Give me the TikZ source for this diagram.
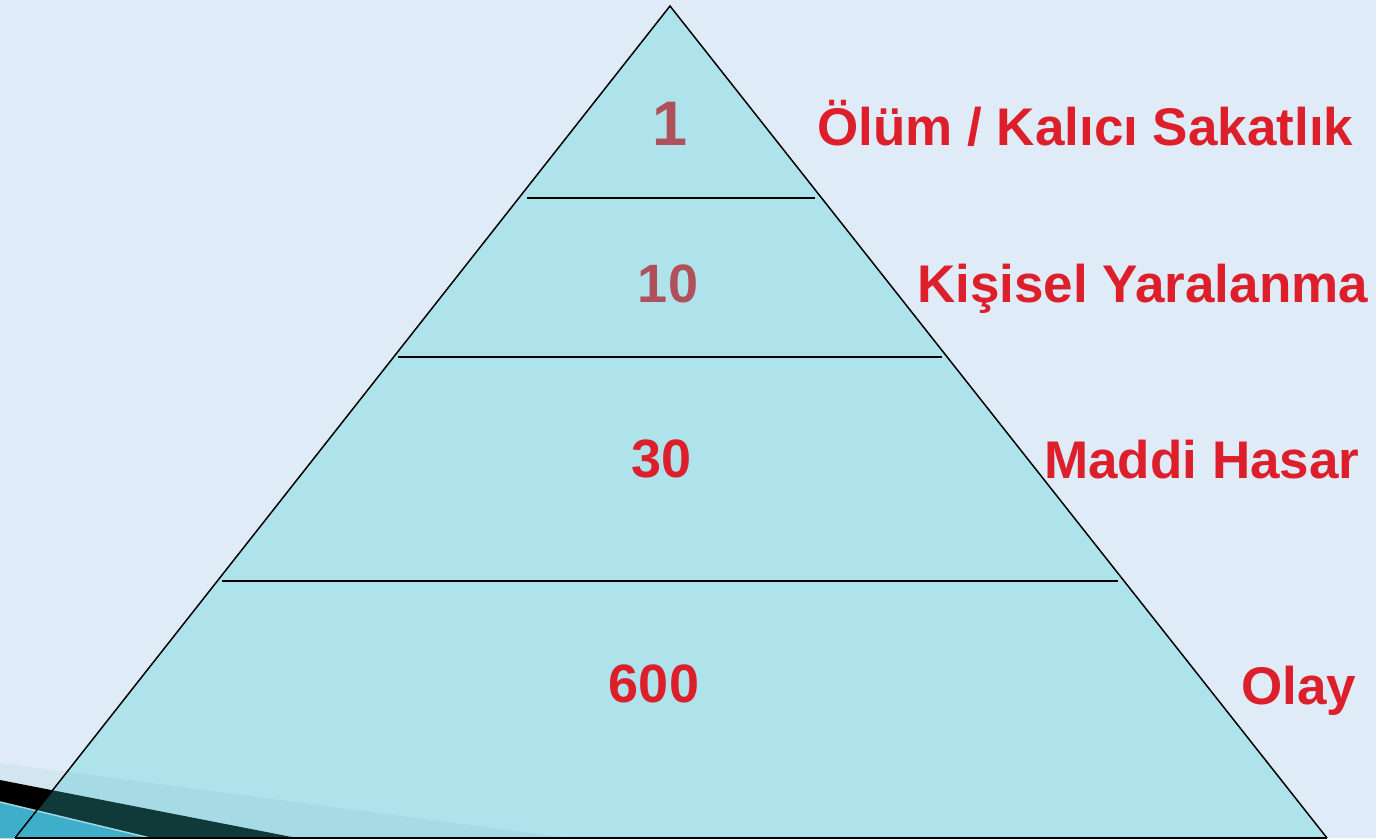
\documentclass[tikz,border=0pt]{standalone}
\usepackage{fontspec}
\setmainfont{Liberation Sans}
\definecolor{bgc}{HTML}{DFECF8}
\definecolor{tric}{HTML}{AEE3EC}
\definecolor{numdark}{HTML}{B0505A}
\definecolor{lblred}{HTML}{DD1F2B}
\definecolor{bandc}{HTML}{103A3A}
\definecolor{stripec}{HTML}{3FAECB}
\definecolor{lightband}{HTML}{D3E6EF}
\definecolor{lightbandin}{HTML}{A6DBE5}
\definecolor{stripeline}{HTML}{9ED8E4}
\begin{document}
\begin{tikzpicture}[x=1pt,y=-1pt,
  lbl/.style={font=\fontsize{53}{60}\selectfont\bfseries, text=lblred, inner sep=0pt, anchor=base west},
  num/.style={font=\fontsize{54}{62}\selectfont\bfseries, inner sep=0pt, anchor=base},
  sep/.style={draw=black, line width=1.6pt},
  edge/.style={draw=black, line width=1.5pt, line join=miter}]
\fill[bgc] (0,0) rectangle (1376,838);
\useasboundingbox (0,0) rectangle (1376,838);
% decoration outside the triangle
\fill[lightband] (0,763) -- (568,838) -- (0,838) -- cycle;
\fill[black] (0,780) -- (297,838) -- (0,838) -- cycle;
\fill[stripec] (0,802) -- (150,838) -- (0,838) -- cycle;
\draw[stripeline, line width=1.5pt] (0,802) -- (150,838);
% triangle
\coordinate (apex) at (670,6);
\coordinate (bl) at (15,838);
\coordinate (br) at (1327,838);
\fill[tric] (apex) -- (bl) -- (br) -- cycle;
\begin{scope}
  \clip (apex) -- (bl) -- (br) -- cycle;
  \fill[lightbandin] (0,763) -- (568,838) -- (0,838) -- cycle;
  \fill[bandc] (0,780) -- (297,838) -- (0,838) -- cycle;
  \fill[stripec] (0,802) -- (150,838) -- (0,838) -- cycle;
  \draw[stripeline, line width=1.5pt] (0,802) -- (150,838);
\end{scope}
\draw[edge] (bl) -- (apex) -- (br);
\draw[edge] (bl) -- (br);
% level lines
\coordinate (l1a) at (527,198); \coordinate (l1b) at (815,198);
\coordinate (l2a) at (398,357); \coordinate (l2b) at (942,357);
\coordinate (l3a) at (222,581); \coordinate (l3b) at (1118,581);
\draw[sep] (l1a) -- (l1b);
\draw[sep] (l2a) -- (l2b);
\draw[sep] (l3a) -- (l3b);
% numbers
\node[num, text=numdark, font=\fontsize{63}{70}\selectfont\bfseries] (n1) at (670,145) {1};
\node[num, text=numdark] (n10) at (668,302) {10};
\node[num, text=lblred] (n30) at (662,477) {30};
\node[num, text=lblred] (n600) at (654,702) {600};
% labels
\node[lbl] (t1) at (817,145) {Ölüm / Kalıcı Sakatlık};
\node[lbl] (t2) at (917,302) {Kişisel Yaralanma};
\node[lbl] (t3) at (1044,478) {Maddi Hasar};
\node[lbl] (t4) at (1241,704) {Olay};
\end{tikzpicture}
\end{document}
